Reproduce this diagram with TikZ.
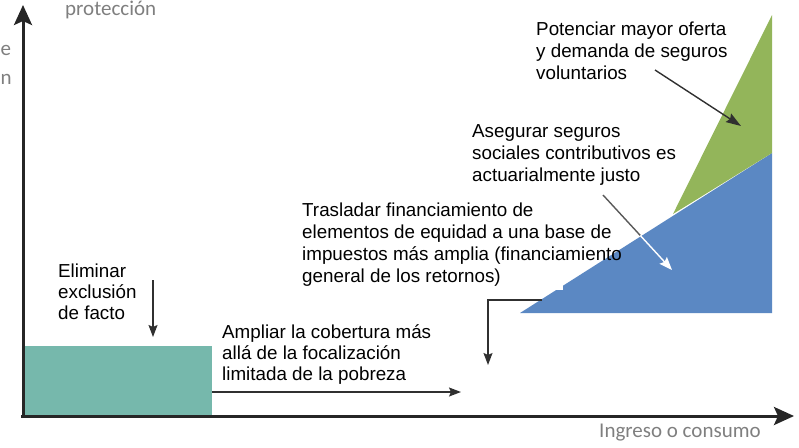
\documentclass[tikz,border=0pt]{standalone}
\usepackage{fontspec}
\setmainfont{Liberation Sans}
\newfontfamily\graylabelfont{Carlito}
\usetikzlibrary{arrows.meta}
\definecolor{tealbox}{HTML}{76B8AC}
\definecolor{bluetri}{HTML}{5B88C3}
\definecolor{greentri}{HTML}{93B55A}
\definecolor{axisgray}{HTML}{262626}
\definecolor{arrowgray}{HTML}{303030}
\definecolor{labelgray}{HTML}{7F7F7F}
\begin{document}
\begin{tikzpicture}[x=1pt,y=-1pt,
  lbl/.style={anchor=north west, align=left, inner sep=0pt, text=black, font=\fontsize{18.8}{22}\selectfont},
  lblsmall/.style={lbl, font=\fontsize{18.8}{21}\selectfont},
  axisline/.style={line width=3pt, draw=axisgray, -{Stealth[length=20pt,width=18pt,inset=4pt]}},
  thinarrow/.style={line width=1.4pt, draw=arrowgray, -{Stealth[length=12pt,width=9pt,inset=2pt]}},
  glabel/.style={text=labelgray, inner sep=0pt, font=\graylabelfont\fontsize{21}{25}\selectfont}]
\useasboundingbox (0,0) rectangle (799,447);

% shapes
\node[fill=tealbox, minimum width=187pt, minimum height=70pt, inner sep=0pt, outer sep=0pt, anchor=north west] (base) at (25,346) {};
\fill[bluetri] (520,313) -- (772,153) -- (772,313) -- cycle;
\fill[greentri] (673,214) -- (772,15) -- (772,153) -- cycle;
\fill[white] (545,280) rectangle (563,290);

% axes
\coordinate (ytail) at (23,418);
\coordinate (ytip) at (23,5);
\coordinate (xtail) at (21,416);
\coordinate (xtip) at (794,416);
\draw[axisline] (ytail) -- (ytip);
\draw[axisline] (xtail) -- (xtip);

% texts
\node[lbl] (pot) at (536,19.6) {\strut Potenciar mayor oferta\\y demanda de seguros\\voluntarios};
\node[lbl] (ase) at (472,121.6) {\strut Asegurar seguros\\sociales contributivos es\\actuarialmente justo};
\node[lbl] (tras) at (302,201) {\strut Trasladar financiamiento de\\elementos de equidad a una base de\\impuestos más amplia (financiamiento\\general de los retornos)};
\node[lblsmall] (elim) at (58,262.3) {\strut Eliminar\\exclusión\\de facto};
\node[lblsmall] (ampl) at (222,323.3) {\strut Ampliar la cobertura más\\allá de la focalización\\limitada de la pobreza};

\node[glabel, anchor=base west] (ylab) at (65,15) {protección};
\node[glabel, anchor=base west] (ycut1) at (0.5,55) {e};
\node[glabel, anchor=base west] (ycut2) at (0.5,84) {n};
\node[glabel, anchor=base west] (xlab) at (599,437) {Ingreso o consumo};

% connectors
\coordinate (elimS) at (153,280);
\coordinate (elimE) at (153,337);
\draw[thinarrow] (elimS) -- (elimE);

\coordinate (amplS) at (212,392);
\coordinate (amplE) at (461,392);
\draw[thinarrow] (amplS) -- (amplE);

\coordinate (elbS) at (542,300);
\coordinate (elbE) at (488,365);
\draw[thinarrow] (elbS) -| (elbE);

\coordinate (potS) at (655,70);
\coordinate (potE) at (741,126);
\draw[thinarrow, -{Stealth[length=15pt,width=10pt,inset=2pt]}] (potS) -- (potE);

\coordinate (aseS) at (603,195);
\coordinate (aseM) at (640.3,235.5);
\coordinate (aseE) at (672,270);
\draw[line width=1.4pt, draw=arrowgray!80] (aseS) -- (aseM);
\draw[line width=1.4pt, draw=white, -{Stealth[length=13pt,width=10pt,inset=2pt]}] (aseM) -- (aseE);
\end{tikzpicture}
\end{document}
